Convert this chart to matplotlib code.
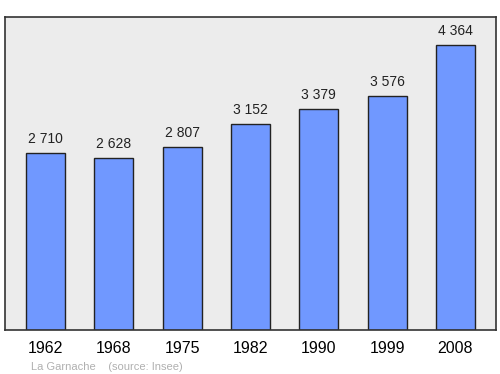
import matplotlib
matplotlib.use('Agg')
import matplotlib.pyplot as plt

years = ['1962', '1968', '1975', '1982', '1990', '1999', '2008']
population = [2710, 2628, 2807, 3152, 3379, 3576, 4364]
value_labels = ['2 710', '2 628', '2 807', '3 152', '3 379', '3 576', '4 364']

plt.rcParams['font.family'] = ['Liberation Sans', 'DejaVu Sans']

fig = plt.figure(figsize=(5, 3.74), dpi=100)
ax = fig.add_axes([0.01, 0.1176, 0.982, 0.8369])
ax.set_facecolor('#ececec')

x = range(len(years))
ax.bar(x, population, width=0.57, color='#7098ff', edgecolor='#222222', linewidth=1)

for i, (v, lab) in enumerate(zip(population, value_labels)):
    ax.annotate(lab, (i, v), xytext=(0, 5), textcoords='offset points',
                ha='center', va='bottom', fontsize=10, color='#222222')

ax.set_xlim(-0.593, 6.593)
ax.set_ylim(0, 4790)
ax.set_xticks(list(x))
ax.set_xticklabels(years, fontsize=11.5)
ax.tick_params(axis='x', length=0, pad=8)
ax.set_yticks([])
for s in ax.spines.values():
    s.set_color('#333333')
    s.set_linewidth(1.2)

fig.text(0.062, 0.012, 'La Garnache    (source: Insee)', fontsize=8, color='#b0b0b0')

fig.savefig('out.png', dpi=100)
